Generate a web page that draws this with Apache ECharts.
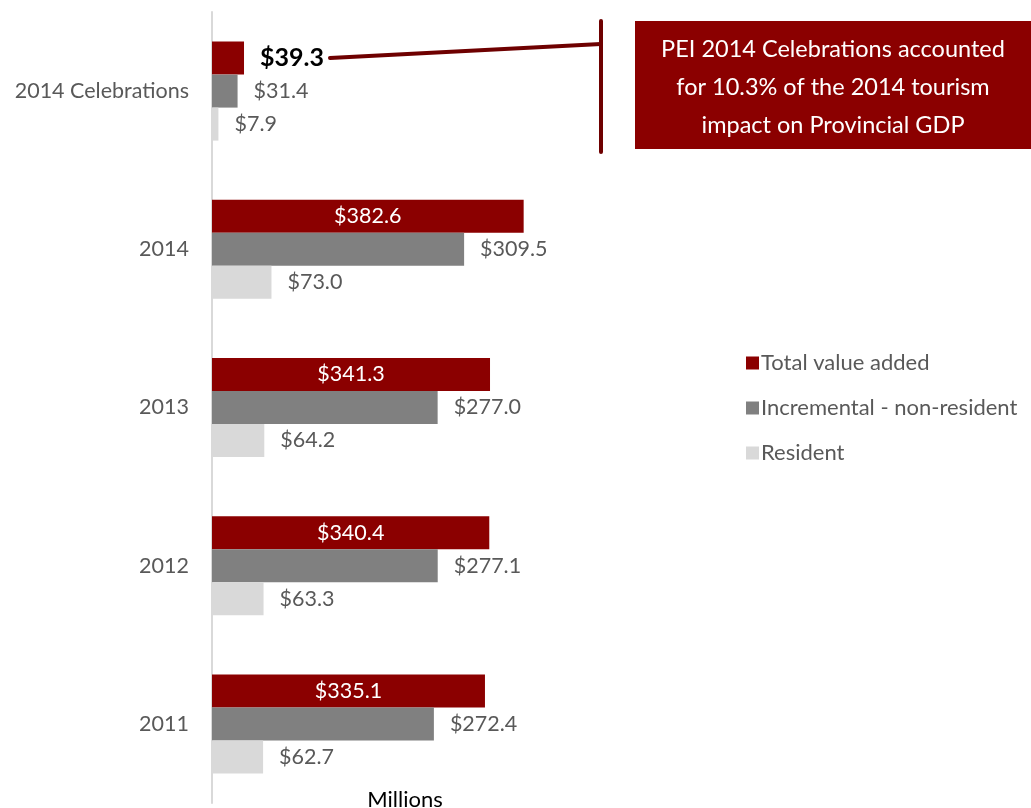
<!DOCTYPE html>
<html>
<head>
<meta charset="utf-8">
<script src="https://cdn.jsdelivr.net/npm/echarts@6/dist/echarts.min.js"></script>
<style>
  html, body { margin: 0; padding: 0; background: #fff; }
  #chart { width: 1031px; height: 808px; }
</style>
</head>
<body>
<div id="chart"></div>
<script>
// Tourism GDP impact — 2011..2014 plus the 2014 Celebrations slice
const categories = ['2014 Celebrations', '2014', '2013', '2012', '2011'];
const totalValueAdded = [39.3, 382.6, 341.3, 340.4, 335.1];
const incrementalNonResident = [31.4, 309.5, 277.0, 277.1, 272.4];
const resident = [7.9, 73.0, 64.2, 63.3, 62.7];

const RED = '#8b0000';
const DARK_RED = '#6e0000';
const GREY = '#808080';
const LIGHT = '#d9d9d9';
const TEXT = '#595959';
const FONT = 'Lato, "Open Sans", sans-serif';

const money = (p) => '$' + p.value.toFixed(1);

const chart = echarts.init(document.getElementById('chart'));

// the celebrations bar gets its label outside, bold and black
const totalData = totalValueAdded.map((v, i) => i === 0
  ? { value: v, label: { position: 'right', distance: 16, color: '#000', fontWeight: 'bold', fontSize: 25 } }
  : v);

const sideLabel = { show: true, position: 'right', distance: 16, color: TEXT, fontSize: 21.5, fontFamily: FONT, formatter: money };

chart.setOption({
  animation: false,
  textStyle: { fontFamily: FONT },
  grid: { left: 212, top: 12, width: 391, height: 791 },
  legend: {
    orient: 'vertical', left: 741, top: 347,
    itemWidth: 13, itemHeight: 13, itemGap: 23,
    icon: 'rect',
    textStyle: { color: TEXT, fontSize: 22, fontFamily: FONT, padding: [0, 0, 0, -3] },
    data: ['Total value added', 'Incremental - non-resident', 'Resident'],
  },
  xAxis: {
    type: 'value', min: 0, max: 480,
    axisLine: { show: false }, axisTick: { show: false },
    axisLabel: { show: false }, splitLine: { show: false },
  },
  yAxis: {
    type: 'category', inverse: true, data: categories,
    axisLine: { show: true, lineStyle: { color: LIGHT, width: 2 } },
    axisTick: { show: false },
    axisLabel: { color: TEXT, fontSize: 21.5, fontFamily: FONT, margin: 23 },
  },
  series: [
    {
      name: 'Total value added', type: 'bar', data: totalData,
      barWidth: 33, barGap: '0%',
      itemStyle: { color: RED },
      label: { show: true, position: 'inside', color: '#fff', fontSize: 21.5, fontFamily: FONT, formatter: money },
    },
    {
      name: 'Incremental - non-resident', type: 'bar', data: incrementalNonResident,
      barWidth: 33, barGap: '0%',
      itemStyle: { color: GREY },
      label: sideLabel,
    },
    {
      name: 'Resident', type: 'bar', data: resident,
      barWidth: 33, barGap: '0%',
      itemStyle: { color: LIGHT },
      label: sideLabel,
    },
  ],
  graphic: [
    // callout connector and bracket
    { type: 'line', shape: { x1: 330, y1: 58, x2: 601, y2: 44 }, style: { stroke: DARK_RED, lineWidth: 4, lineCap: 'round' } },
    { type: 'line', shape: { x1: 601, y1: 21, x2: 601, y2: 152 }, style: { stroke: DARK_RED, lineWidth: 4, lineCap: 'round' } },
    { type: 'rect', shape: { x: 635, y: 21, width: 400, height: 128 }, style: { fill: RED } },
    {
      type: 'text', x: 833, y: 87,
      style: {
        text: 'PEI 2014 Celebrations accounted\nfor 10.3% of the 2014 tourism\nimpact on Provincial GDP',
        fill: '#fff', font: '23.5px ' + FONT, align: 'center', verticalAlign: 'middle', lineHeight: 38,
      },
    },
    {
      type: 'text', x: 405, y: 800,
      style: { text: 'Millions', fill: '#000', font: '22px ' + FONT, align: 'center', verticalAlign: 'middle' },
    },
  ],
});
</script>
</body>
</html>
